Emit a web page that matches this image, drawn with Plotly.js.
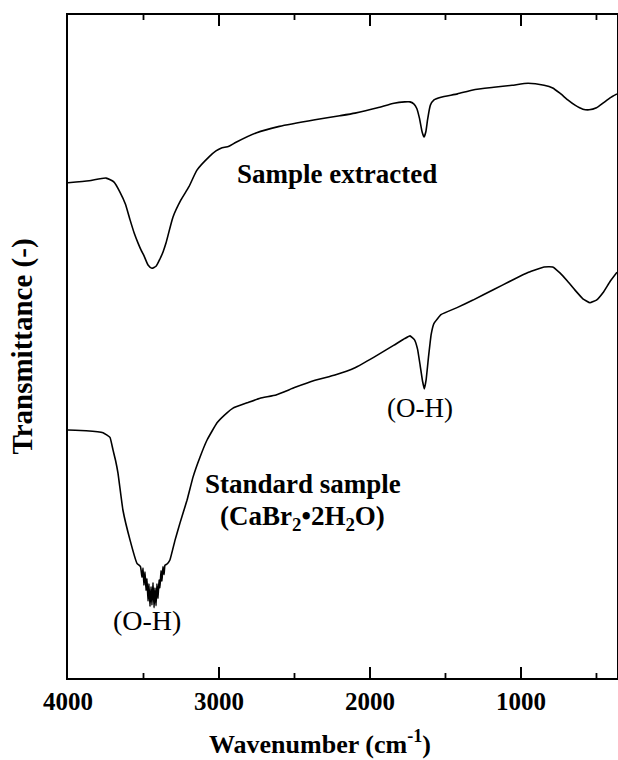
<!DOCTYPE html>
<html>
<head>
<meta charset="utf-8">
<script src="https://cdn.plot.ly/plotly-3.0.1.min.js"></script>
<style>html,body{margin:0;padding:0;background:#fff;}#chart{width:618px;height:760px;}</style>
</head>
<body>
<div id="chart"></div>
<script>
// Upper spectrum: "Sample extracted"
const upperWn = [4000, 3860, 3748, 3695, 3656, 3620, 3589, 3560, 3536, 3515, 3497, 3470, 3444, 3417, 3391, 3370, 3351, 3305, 3252, 3199, 3146, 3066, 3020, 2987, 2934, 2887, 2755, 2600, 2364, 2200, 2099, 1950, 1841, 1770, 1735, 1710, 1690, 1672, 1655, 1642, 1630, 1618, 1600, 1576, 1530, 1420, 1318, 1180, 1059, 953, 847, 790, 742, 690, 642, 590, 549, 500, 457, 410, 364];
const upperT  = [74.7, 75.0, 75.4, 74.8, 73.3, 71.5, 69.1, 67.0, 65.6, 64.5, 63.7, 62.3, 61.8, 62.1, 63.2, 64.3, 65.6, 69.5, 72.1, 74.1, 76.6, 78.6, 79.5, 79.9, 80.2, 80.8, 82.2, 83.2, 84.2, 84.8, 85.2, 86.0, 86.7, 86.9, 86.9, 86.6, 85.9, 84.4, 82.4, 81.6, 82.4, 84.3, 86.4, 87.2, 87.6, 88.1, 88.7, 89.1, 89.4, 89.7, 89.4, 89.0, 88.2, 87.2, 86.4, 85.8, 85.7, 86.0, 86.7, 87.5, 88.1];

// Lower spectrum: "Standard sample (CaBr2·2H2O)"
const lowerWn = [4000, 3880, 3768, 3722, 3702, 3685, 3669, 3636, 3589, 3543, 3520, 3510, 3503, 3497, 3490, 3483, 3477, 3470, 3464, 3457, 3450, 3444, 3437, 3430, 3424, 3417, 3411, 3404, 3397, 3391, 3384, 3378, 3371, 3364, 3358, 3344, 3325, 3291, 3258, 3212, 3172, 3126, 3079, 3013, 2947, 2907, 2887, 2814, 2728, 2622, 2500, 2364, 2232, 2099, 1973, 1841, 1770, 1735, 1705, 1685, 1668, 1652, 1640, 1628, 1612, 1595, 1576, 1530, 1420, 1318, 1180, 1059, 950, 847, 790, 742, 690, 642, 590, 543, 500, 457, 410, 364];
const lowerT  = [37.4, 37.3, 37.0, 36.3, 34.4, 32.8, 30.9, 25.3, 20.8, 17.3, 16.8, 15.2, 16.6, 14.0, 16.0, 13.2, 15.0, 11.6, 14.2, 10.8, 13.8, 11.0, 14.4, 10.6, 13.6, 10.9, 14.2, 12.0, 14.8, 13.6, 16.2, 14.6, 16.8, 15.6, 17.0, 17.2, 17.8, 20.8, 23.4, 26.8, 30.3, 33.3, 35.9, 38.5, 40.0, 40.7, 40.9, 41.5, 42.2, 42.7, 43.8, 44.9, 45.7, 46.8, 48.4, 50.2, 51.2, 51.6, 51.0, 49.6, 47.2, 44.8, 43.6, 45.0, 48.5, 51.8, 53.5, 54.8, 55.9, 57.0, 58.6, 60.0, 61.2, 62.0, 62.0, 61.1, 59.8, 58.5, 57.2, 56.6, 57.0, 58.1, 59.8, 61.2];

// Axis tick labels
const tickVals = [4000, 3000, 2000, 1000];
const tickText = ['4000', '3000', '2000', '1000'];
const minorTickVals = [3500, 2500, 1500, 500];

const serif = 'Liberation Serif, Times New Roman, serif';

const traces = [
  {x: upperWn, y: upperT, type: 'scatter', mode: 'lines', line: {color: '#000', width: 1.6, shape: 'spline', smoothing: 0.5}, hoverinfo: 'skip'},
  {x: lowerWn, y: lowerT, type: 'scatter', mode: 'lines', line: {color: '#000', width: 1.6, shape: 'spline', smoothing: 0.3}, hoverinfo: 'skip'}
];

// Inward tick marks on bottom and top axes, placed through the x scale at the tick values
const majorLen = 11 / 663, minorLen = 5 / 663;
function tickShapes(vals, len, w) {
  const out = [];
  vals.forEach(v => {
    out.push({type: 'line', xref: 'x', yref: 'paper', x0: v, x1: v, y0: 0, y1: len, line: {color: '#000', width: w}, layer: 'above'});
    out.push({type: 'line', xref: 'x', yref: 'paper', x0: v, x1: v, y0: 1 - len, y1: 1, line: {color: '#000', width: w}, layer: 'above'});
  });
  return out;
}
const shapes = tickShapes(tickVals.slice(1), majorLen, 2).concat(tickShapes(minorTickVals, minorLen, 1.8));

const layout = {
  width: 618, height: 760,
  margin: {l: 68, r: 1, t: 15, b: 82},
  showlegend: false,
  font: {family: serif, color: '#000'},
  xaxis: {
    range: [4000, 364],
    tickmode: 'array', tickvals: tickVals, ticktext: tickText,
    ticks: 'inside', ticklen: 11, tickwidth: 2, tickcolor: '#000',
    minor: {tickmode: 'array', tickvals: minorTickVals, ticks: 'inside', ticklen: 5, tickwidth: 1.8, tickcolor: '#000', showgrid: false},
    showline: true, linecolor: '#000', linewidth: 2, mirror: 'ticks',
    showgrid: false, zeroline: false,
    tickfont: {family: serif, size: 25, weight: 'bold', color: '#000'}
  },
  yaxis: {
    range: [0, 100],
    showticklabels: false, ticks: '',
    showline: true, linecolor: '#000', linewidth: 2, mirror: true,
    showgrid: false, zeroline: false,
    title: {text: 'Transmittance (-)', font: {family: serif, size: 29, weight: 'bold', color: '#000'}, standoff: 25}
  },
  shapes: shapes,
  annotations: [
    {xref: 'paper', yref: 'paper', x: 0.459, y: -0.098, yanchor: 'middle', xanchor: 'center', showarrow: false, borderpad: 0,
     text: 'Wavenumber (cm<sup>-1</sup>)', font: {family: serif, size: 26, weight: 'bold', color: '#000'}},
    {x: 2219, y: 76.0, xref: 'x', yref: 'y', showarrow: false, xanchor: 'center', yanchor: 'middle',
     text: 'Sample extracted', font: {family: serif, size: 27, weight: 'bold', color: '#000'}},
    {x: 1669, y: 40.7, xref: 'x', yref: 'y', showarrow: false, xanchor: 'center', yanchor: 'middle',
     text: '(O-H)', font: {family: serif, size: 27, color: '#000'}},
    {x: 2444, y: 29.3, xref: 'x', yref: 'y', showarrow: false, xanchor: 'center', yanchor: 'middle',
     text: 'Standard sample', font: {family: serif, size: 27, weight: 'bold', color: '#000'}},
    {x: 2444, y: 24.2, xref: 'x', yref: 'y', showarrow: false, xanchor: 'center', yanchor: 'middle',
     text: '(CaBr<sub>2</sub>•2H<sub>2</sub>O)', font: {family: serif, size: 27, weight: 'bold', color: '#000'}},
    {x: 3477, y: 8.7, xref: 'x', yref: 'y', showarrow: false, xanchor: 'center', yanchor: 'middle',
     text: '(O-H)', font: {family: serif, size: 28, color: '#000'}}
  ]
};

Plotly.newPlot('chart', traces, layout, {staticPlot: true, displayModeBar: false});
</script>
</body>
</html>
